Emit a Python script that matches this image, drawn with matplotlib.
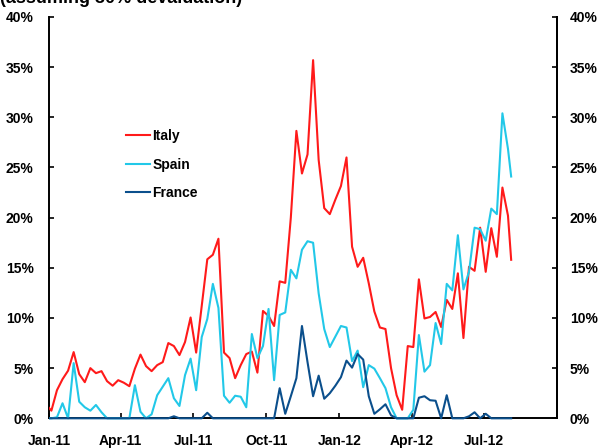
import matplotlib
matplotlib.use("Agg")
import matplotlib.pyplot as plt
import matplotlib.dates as mdates
from matplotlib.patches import Rectangle
import pandas as pd
import numpy as np

plt.rcParams['font.family'] = ['Liberation Sans', 'DejaVu Sans']
plt.rcParams['font.weight'] = 'bold'

title = "(assuming 30% devaluation)"
series_names = ["Italy", "Spain", "France"]
colors = ["#FF1A1A", "#22C8E8", "#0B4F8C"]

# weekly observations from late Dec 2010, plus one final partial-week point
first_date = "2010-12-28"
n_weekly = 84
last_date = "2012-08-04"

italy = [1.4, 0.76, 2.8, 3.9, 4.75, 6.6, 4.4, 3.6, 5.0, 4.5,
         4.7, 3.7, 3.25, 3.8, 3.55, 3.2, 4.95, 6.35, 5.2, 4.7,
         5.3, 5.6, 7.5, 7.2, 6.3, 7.6, 10.05, 6.55, 11.2, 15.85,
         16.3, 17.9, 6.55, 6.0, 4.0, 5.3, 6.4, 6.65, 4.55, 10.7,
         10.2, 9.2, 13.65, 13.5, 20.0, 28.65, 24.4, 26.3, 35.7, 25.75,
         20.95, 20.35, 21.8, 23.15, 26.0, 17.1, 15.1, 16.0, 13.45, 10.65,
         9.05, 8.9, 5.0, 2.3, 0.85, 7.2, 7.1, 13.85, 9.95, 10.1,
         10.6, 9.1, 11.8, 10.9, 14.45, 8.0, 15.1, 14.7, 19.0, 14.6,
         18.95, 16.1, 23.0, 20.2, 15.8]

spain = [0.0, 0.0, 0.1, 1.5, 0.0, 5.5, 1.65, 1.1, 0.76, 1.33,
         0.6, 0.0, 0.0, 0.0, 0.0, 0.0, 3.3, 0.65, 0.0, 0.4,
         2.3, 3.15, 4.0, 2.0, 1.23, 4.3, 5.95, 2.8, 8.1, 9.9,
         13.4, 11.0, 2.25, 1.55, 2.25, 2.15, 1.1, 8.4, 6.0, 7.2,
         10.9, 3.8, 10.3, 10.55, 14.8, 13.95, 16.8, 17.65, 17.5, 12.45,
         8.9, 7.1, 8.15, 9.2, 9.05, 5.7, 6.75, 3.1, 5.3, 4.95,
         4.0, 3.0, 1.1, 0.0, 0.0, 0.0, 0.85, 8.3, 4.65, 5.3,
         9.5, 7.4, 13.4, 12.75, 18.25, 12.85, 14.6, 19.0, 18.85, 17.7,
         20.9, 20.35, 30.4, 26.85, 24.1]

france = [0.0, 0.0, 0.0, 0.0, 0.0, 0.0, 0.0, 0.0, 0.0, 0.0,
          0.0, 0.0, 0.0, 0.0, 0.0, 0.0, 0.0, 0.0, 0.0, 0.0,
          0.0, 0.0, 0.0, 0.2, 0.0, 0.0, 0.0, 0.0, 0.0, 0.55,
          0.0, 0.0, 0.0, 0.0, 0.0, 0.0, 0.0, 0.0, 0.0, 0.0,
          0.0, 0.0, 3.0, 0.45, 2.2, 4.0, 9.2, 5.6, 2.2, 4.25,
          1.95, 2.5, 3.25, 4.1, 5.75, 5.05, 6.4, 5.85, 2.2, 0.45,
          0.9, 1.4, 0.3, 0.0, 0.0, 0.0, 0.0, 2.05, 2.2, 1.8,
          1.75, 0.0, 2.3, 0.0, 0.0, 0.0, 0.2, 0.6, 0.0, 0.45,
          0.0, 0.0, 0.0, 0.0, 0.0]

y_ticks = [0, 5, 10, 15, 20, 25, 30, 35, 40]
x_tick_dates = ["2011-01-01", "2011-04-01", "2011-07-01", "2011-10-01",
                "2012-01-01", "2012-04-01", "2012-07-01"]
x_start, x_end = "2011-01-01", "2012-10-01"

dates = list(pd.date_range(first_date, periods=n_weekly, freq="7D")) + [pd.Timestamp(last_date)]

W, H = 600, 448
fig = plt.figure(figsize=(W / 100, H / 100), dpi=100)
left, right, bottom, top = 49, 557.3, 418.3, 17
ax = fig.add_axes([left / W, 1 - bottom / H, (right - left) / W, (bottom - top) / H])

clip_rect = Rectangle((0, -0.05), 1, 1.1, transform=ax.transAxes, facecolor="none", edgecolor="none")
ax.add_patch(clip_rect)
for name, vals, c in zip(series_names, [italy, spain, france], colors):
    ln, = ax.plot(dates, vals, color=c, lw=1.5, label=name, zorder=3)
    ln.set_clip_path(clip_rect)

ax.set_xlim(pd.Timestamp(x_start), pd.Timestamp(x_end))
ax.set_ylim(0, 40)
ax.set_yticks(y_ticks)
ax.set_yticklabels([f"{v}%" for v in y_ticks])
ax.set_xticks([pd.Timestamp(d) for d in x_tick_dates])
ax.xaxis.set_major_formatter(mdates.DateFormatter("%b-%y"))

for s in ["left", "bottom", "right"]:
    ax.spines[s].set_linewidth(1.4)
    ax.spines[s].set_color("black")
ax.spines["top"].set_visible(False)

ax.tick_params(axis="both", direction="in", length=3.5, width=1.2, labelsize=10, colors="black")
ax.tick_params(axis="y", pad=11)
ax.tick_params(axis="x", pad=11)

ax2 = ax.twinx()
ax2.set_ylim(0, 40)
ax2.set_yticks(y_ticks)
ax2.set_yticklabels([f"{v}%" for v in y_ticks])
ax2.tick_params(axis="y", direction="in", length=3.5, width=1.2, labelsize=10, pad=9)
for s in ["left", "bottom", "top"]:
    ax2.spines[s].set_visible(False)
ax2.spines["right"].set_linewidth(1.4)

for lab in ax.get_xticklabels() + ax.get_yticklabels() + ax2.get_yticklabels():
    lab.set_fontweight("bold")

leg = ax.legend(loc="upper left", bbox_to_anchor=(126 / W, 1 - 129 / H),
                bbox_transform=fig.transFigure, frameon=False, prop={"size": 10, "weight": "bold"},
                handlelength=1.7, handletextpad=0.2, labelspacing=1.05, borderpad=0, borderaxespad=0)

fig.text(0.0, 1 - 2.7 / H, title, ha="left", va="baseline", fontsize=13, fontweight="bold")

fig.savefig("out.png", dpi=100)
